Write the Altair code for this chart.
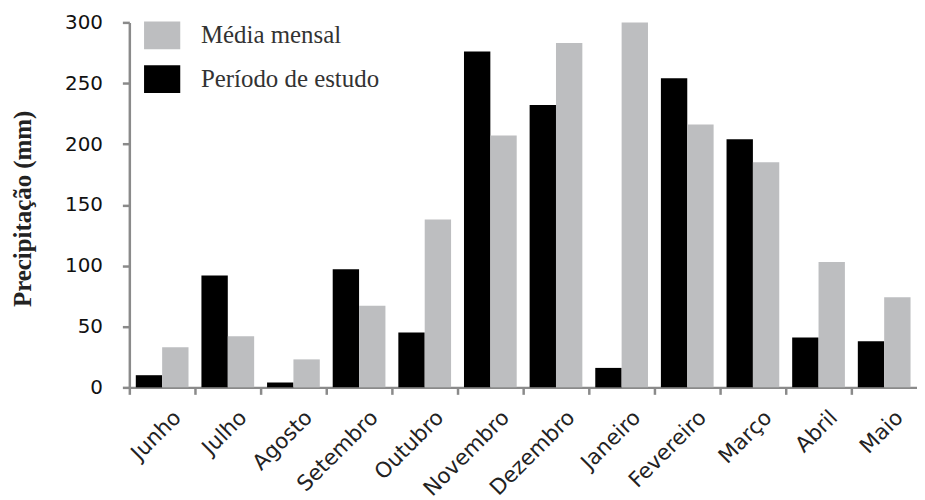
import altair as alt
import pandas as pd

months = ["Junho", "Julho", "Agosto", "Setembro", "Outubro", "Novembro",
          "Dezembro", "Janeiro", "Fevereiro", "Março", "Abril", "Maio"]
periodo_estudo = [10, 92, 4, 97, 45, 276, 232, 16, 254, 204, 41, 38]
media_mensal = [33, 42, 23, 67, 138, 207, 283, 300, 216, 185, 103, 74]
series_names = ["Média mensal", "Período de estudo"]
y_ticks = [0, 50, 100, 150, 200, 250, 300]

rows = []
for m, p, mm in zip(months, periodo_estudo, media_mensal):
    rows.append({"Mes": m, "Serie": "Período de estudo", "Valor": p})
    rows.append({"Mes": m, "Serie": "Média mensal", "Valor": mm})
df = pd.DataFrame(rows)

chart = alt.Chart(df).mark_bar().encode(
    x=alt.X("Mes:N", sort=months,
            scale=alt.Scale(paddingInner=0, paddingOuter=0),
            axis=alt.Axis(title=None, labelAngle=-45, labelAlign="right",
                          labelBaseline="middle", bandPosition=0,
                          labelFont="DejaVu Sans", labelFontSize=21.5,
                          labelColor="#222", labelPadding=20,
                          labelOffset=16,
                          domainColor="#8a8a8a", domainWidth=2.5,
                          tickColor="#8a8a8a", tickWidth=2.5, tickSize=7)),
    xOffset=alt.XOffset("Serie:N", sort=["Período de estudo", "Média mensal"],
                        scale=alt.Scale(paddingInner=0, paddingOuter=0.245)),
    y=alt.Y("Valor:Q",
            scale=alt.Scale(domain=[0, 300], nice=False),
            axis=alt.Axis(title="Precipitação (mm)", values=y_ticks,
                          titleFont="Liberation Serif", titleFontSize=25,
                          titleFontWeight="bold", titleColor="#222",
                          titleX=-107, titleY=187, titleAngle=270,
                          titleAlign="center", titleBaseline="middle",
                          labelFont="DejaVu Sans", labelFontSize=20,
                          labelColor="#111", labelPadding=20,
                          domainColor="#8a8a8a", domainWidth=2.5,
                          tickColor="#8a8a8a", tickWidth=2.5, tickSize=7,
                          grid=False)),
    color=alt.Color("Serie:N",
                    scale=alt.Scale(domain=series_names,
                                    range=["#BDBEC0", "#000000"]),
                    legend=alt.Legend(title=None, orient="none",
                                      legendX=19, legendY=-1,
                                      symbolType="M-1.3,-1H1.3V1H-1.3Z",
                                      symbolSize=784, symbolStrokeWidth=0,
                                      labelFont="Liberation Serif",
                                      labelFontSize=25, labelColor="#333",
                                      labelLimit=0,
                                      labelOffset=25, rowPadding=16)),
).properties(
    width=792, height=367,
    autosize=alt.AutoSizeParams(type="none"),
    padding={"left": 122, "top": 13, "right": 0, "bottom": 150},
).configure_view(stroke=None)

chart.save("out.html", embed_options={"renderer": "svg", "actions": False})
